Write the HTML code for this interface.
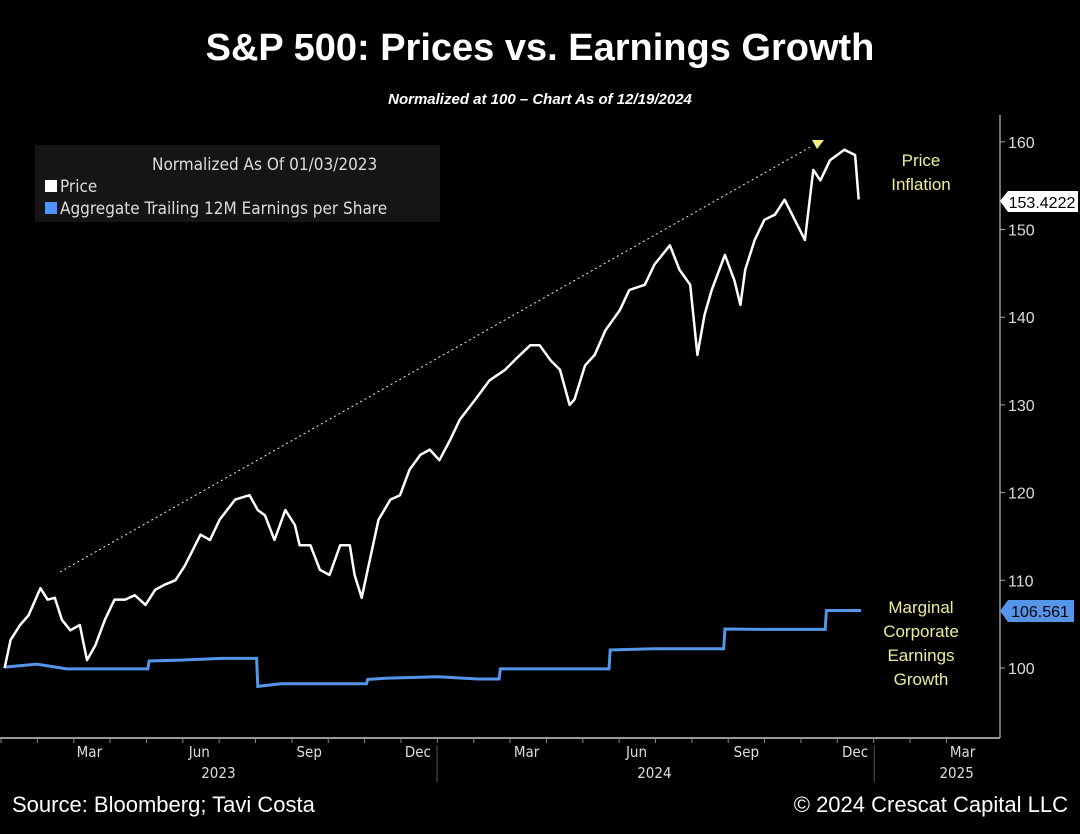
<!DOCTYPE html>
<html><head><meta charset="utf-8"><style>
body{margin:0;background:#000;width:1080px;height:834px;overflow:hidden;font-family:"Liberation Sans",sans-serif}
svg{display:block}
</style></head><body>
<svg width="1080" height="834" id="c">
<text x="540" y="60" fill="#fff" font-size="38" font-weight="bold" text-anchor="middle">S&amp;P 500: Prices vs. Earnings Growth</text>
<text x="540" y="104" fill="#fff" font-size="15" font-weight="bold" font-style="italic" text-anchor="middle">Normalized at 100 – Chart As of 12/19/2024</text>
<g>
<rect x="35" y="145" width="405" height="77" fill="#151515"/>
<text x="152" y="170" fill="#ddd" font-size="17" font-family="DejaVu Sans Condensed, DejaVu Sans, sans-serif">Normalized As Of 01/03/2023</text>
<rect x="45" y="180" width="12" height="12" fill="#fff"/>
<text x="60" y="192" fill="#ddd" font-size="17" font-family="DejaVu Sans Condensed, DejaVu Sans, sans-serif">Price</text>
<rect x="45" y="202" width="12" height="12" fill="#4d94ff"/>
<text x="60" y="214" fill="#ddd" font-size="17" font-family="DejaVu Sans Condensed, DejaVu Sans, sans-serif">Aggregate Trailing 12M Earnings per Share</text>
</g>
<line x1="1000" y1="115" x2="1000" y2="738" stroke="#999" stroke-width="1.5"/>
<line x1="0" y1="738" x2="1000" y2="738" stroke="#999" stroke-width="2"/>
<g id="yt"></g><g id="xt"></g>
<line x1="60" y1="572" x2="812" y2="146" stroke="#eee" stroke-width="1" stroke-dasharray="2,3"/>
<polygon points="812,140 824,140 817,149" fill="#f0f080"/>
<path id="eps" fill="none" stroke="#5596ea" stroke-width="3"/>
<path id="price" fill="none" stroke="#fff" stroke-width="2.5" stroke-linejoin="round"/>
<g fill="#ecec9a" font-size="17" text-anchor="middle">
<text x="921" y="166">Price</text><text x="921" y="190">Inflation</text>
<text x="921" y="613">Marginal</text><text x="921" y="637">Corporate</text><text x="921" y="661">Earnings</text><text x="921" y="685">Growth</text>
</g>
<g><polygon points="1000,201 1008,191 1078,191 1078,212 1008,212" fill="#fff"/><text x="1042" y="208" fill="#000" font-size="16" text-anchor="middle">153.4222</text></g>
<g><polygon points="1000,611 1008,600 1074,600 1074,622 1008,622" fill="#5596ea"/><text x="1040" y="617" fill="#000" font-size="16" text-anchor="middle">106.561</text></g>
<text x="12" y="812" fill="#fff" font-size="22">Source: Bloomberg; Tavi Costa</text>
<text x="1068" y="812" fill="#fff" font-size="22" text-anchor="end">© 2024 Crescat Capital LLC</text>
</svg>
<script>
const priceDays=[3,8,16,23,33,39,45,51,58,66,72,79,87,95,104,112,121,129,137,146,154,167,175,183,196,208,215,221,229,238,246,250,259,267,275,284,292,296,302,307,316,326,334,342,351,359,367,376,384,397,409,422,430,443,451,460,468,476,480,489,497,506,518,526,539,547,560,568,577,583,589,595,606,614,619,623,631,639,648,656,669,673,680,686,694,706,715,718];
const priceVals=[100,103.2,104.9,106,109.1,107.8,108,105.5,104.3,104.9,100.9,102.6,105.5,107.8,107.8,108.3,107.2,108.9,109.5,110,111.7,115.2,114.6,116.9,119.2,119.7,118,117.4,114.6,118,116.3,114,114,111.2,110.6,114,114,110.6,108,111.2,116.9,119.2,119.7,122.6,124.3,124.9,123.7,126,128.3,130.6,132.8,134,135.1,136.8,136.8,135.1,134,130,130.6,134.5,135.7,138.5,140.8,143.1,143.7,146,148.2,145.4,143.7,135.7,140.3,143.1,147.1,144.2,141.4,145.4,148.8,151.1,151.7,153.4,149.9,148.8,156.8,155.6,157.9,159.1,158.5,153.42];
const epsDays=[3,30,55,123,124,150,185,214,215,234,306,307,324,366,399,417,418,509,510,547,605,606,634,690,691,720];
const epsVals=[100.1,100.45,99.9,99.9,100.8,100.9,101.1,101.1,97.9,98.2,98.2,98.7,98.85,99.0,98.75,98.75,99.9,99.9,102.05,102.2,102.2,104.45,104.4,104.4,106.56,106.56];
const yTicks=[100,110,120,130,140,150,160];
const monthLabels=["Mar","Jun","Sep","Dec","Mar","Jun","Sep","Dec","Mar"];
const monthDays=[74,166,258,349,440,532,624,715,805];
const yearLabels=["2023","2024","2025"];
const yearMid=[182,547,800];
const X=d=>1+d*436/365;
const Y=v=>668-(v-100)*8.77;
const NS="http://www.w3.org/2000/svg";
function mk(t,a,p){const e=document.createElementNS(NS,t);for(const k in a)e.setAttribute(k,a[k]);p.appendChild(e);return e;}
let d="";priceDays.forEach((x,i)=>{d+=(i?"L":"M")+X(x).toFixed(1)+","+Y(priceVals[i]).toFixed(1);});
document.getElementById("price").setAttribute("d",d);
d="";epsDays.forEach((x,i)=>{d+=(i?"L":"M")+X(x).toFixed(1)+","+Y(epsVals[i]).toFixed(1);});
document.getElementById("eps").setAttribute("d",d);
const yt=document.getElementById("yt");
yTicks.forEach(v=>{
const l=mk("line",{x1:1000,x2:1005,y1:Y(v),y2:Y(v),stroke:"#aaa"},yt);


const t=mk("text",{x:1008,y:Y(v)+6,fill:"#ddd","font-size":16},yt);t.textContent=v;


});
const xt=document.getElementById("xt");
for(let m=0;m<27;m++){const dd=m*30.44;const l=mk("line",{x1:X(dd),x2:X(dd),y1:738,y2:743,stroke:"#888"},xt);

}
monthLabels.forEach((s,i)=>{const t=mk("text",{x:X(monthDays[i]),y:757,fill:"#ddd","font-size":15,"text-anchor":"middle","font-family":"DejaVu Sans Condensed, DejaVu Sans, sans-serif"},xt);t.textContent=s;

});
yearLabels.forEach((s,i)=>{const t=mk("text",{x:X(yearMid[i]),y:778,fill:"#ddd","font-size":15,"text-anchor":"middle","font-family":"DejaVu Sans Condensed, DejaVu Sans, sans-serif"},xt);t.textContent=s;

});
[365,731].forEach(dd=>{const l=mk("line",{x1:X(dd),x2:X(dd),y1:745,y2:782,stroke:"#555"},xt);

});
</script>
</body></html>
